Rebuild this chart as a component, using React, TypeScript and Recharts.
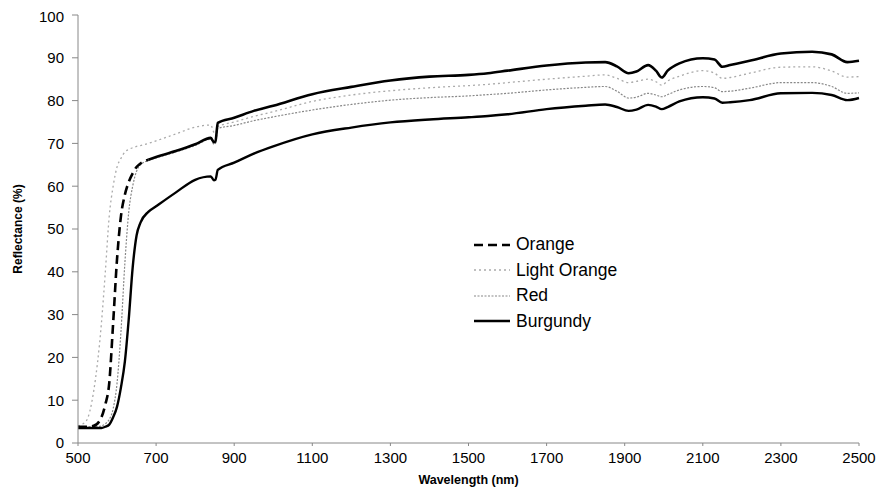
import React from "react";
import { Legend, Line, LineChart, XAxis, YAxis } from "recharts";

// reflectance spectra of four colours
const wavelengths = [
  500, 520, 540, 560, 570, 580, 590, 600, 610, 620, 630, 640, 650, 660, 680,
  700, 750, 800, 840, 848, 852, 858, 900, 950, 1000, 1100, 1200, 1300, 1400,
  1500, 1550, 1600, 1700, 1800, 1850, 1880, 1910, 1930, 1960, 1980, 1995, 2010,
  2040, 2100, 2130, 2150, 2170, 2220, 2300, 2380, 2430, 2470, 2500,
];

const orange = [
  3.8, 3.8, 4, 6, 9, 14, 28, 43, 53, 58, 61, 63, 64.5, 65.3, 66.2, 66.8, 68.2,
  69.8, 71.3, 70.3, 70.5, 74.8, 76, 77.6, 78.8, 81.5, 83.2, 84.7, 85.6, 86,
  86.4, 87, 88.2, 88.9, 89, 88, 86.4, 86.8, 88.3, 87, 85.4, 87, 88.7, 89.9,
  89.6, 87.9, 88.3, 89.3, 91, 91.4, 90.8, 89, 89.3,
];

const lightOrange = [
  4, 5, 12, 28, 40, 53, 60, 64.5, 66.5, 68, 68.6, 69, 69.3, 69.5, 70, 70.6,
  72.2, 73.8, 74.3, 72.6, 72.4, 73.9, 75, 76.3, 77.4, 79.8, 81.3, 82.3, 83,
  83.5, 83.8, 84.2, 85, 85.7, 86, 85.2, 84.2, 84.5, 85, 84.4, 83.6, 84.6, 85.7,
  87, 86.4, 85.2, 85.4, 86.4, 87.8, 87.9, 86.9, 85.5, 85.6,
];

const red = [
  3.8, 3.8, 3.8, 4, 4.5, 5.5, 8, 14, 26, 42, 54, 60, 63.5, 65, 66, 66.6,
  68, 69.5, 71, 69.8, 70, 73.5, 74.2, 75.3, 76.2, 77.8, 79.1, 80.1, 80.7, 81.1,
  81.4, 81.7, 82.5, 83.1, 83.3, 82.2, 80.6, 80.8, 81.7, 81.3, 80.9, 81.4, 82.5,
  83.3, 83, 82.1, 82.2, 82.9, 84.2, 84.2, 83.3, 81.7, 81.8,
];

const burgundy = [
  3.5, 3.5, 3.5, 3.5, 3.8, 4.3, 6, 8.5, 13, 19, 29, 41, 48.5, 51.5, 54, 55.3,
  58.5, 61.5, 62.3, 61.4, 61.5, 63.8, 65.5, 67.6, 69.3, 72.1, 73.7, 74.9, 75.6,
  76.1, 76.4, 76.8, 78, 78.8, 79.1, 78.5, 77.6, 77.9, 79, 78.6, 78, 78.5, 79.8,
  80.8, 80.5, 79.5, 79.6, 80.1, 81.7, 81.8, 81.3, 80.1, 80.6,
];

const xTicks = [500, 700, 900, 1100, 1300, 1500, 1700, 1900, 2100, 2300, 2500];
const yTicks = [0, 10, 20, 30, 40, 50, 60, 70, 80, 90, 100];

// the orange curve reads as dashed only on the steep rise
const data = wavelengths.map((w, i) => ({
  w,
  orangeRise: w <= 680 ? orange[i] : null,
  orangeRest: w >= 680 ? orange[i] : null,
  lightOrange: lightOrange[i],
  red: red[i],
  burgundy: burgundy[i],
}));

const legendItems = [
  { name: "Orange", color: "#000", width: 2.6, dash: "9 5" },
  { name: "Light Orange", color: "#aaa", width: 1.3, dash: "2 3" },
  { name: "Red", color: "#888", width: 1.2, dash: "2 1.5" },
  { name: "Burgundy", color: "#000", width: 2.4, dash: undefined },
];

function SpectraLegend() {
  return (
    <div>
      {legendItems.map((item) => (
        <div
          key={item.name}
          style={{ display: "flex", alignItems: "center", height: 25.5 }}
        >
          <svg width={44} height={10}>
            <line
              x1={6}
              y1={5}
              x2={42}
              y2={5}
              stroke={item.color}
              strokeWidth={item.width}
              strokeDasharray={item.dash}
            />
          </svg>
          <span style={{ fontSize: 17.5, color: "#000", marginLeft: 4 }}>
            {item.name}
          </span>
        </div>
      ))}
    </div>
  );
}

export default function App() {
  return (
    <div
      style={{
        fontFamily: "'Liberation Sans', Arial, sans-serif",
        width: 870,
        height: 484,
        padding: "8px 0 0 8px",
      }}
    >
      <style>{"body { margin: 0; }"}</style>
      <LineChart
        width={870}
        height={484}
        data={data}
        margin={{ top: 7, right: 19, left: 0, bottom: 0 }}
      >
        <XAxis
          dataKey="w"
          type="number"
          domain={[500, 2500]}
          ticks={xTicks}
          height={49}
          stroke="#888"
          tickSize={3}
          tickMargin={6}
          tick={{ fill: "#000", fontSize: 15 }}
          label={{
            value: "Wavelength (nm)",
            position: "insideBottom",
            offset: 8,
            style: { fontSize: 12.5, fontWeight: "bold", fill: "#000" },
          }}
        />
        <YAxis
          domain={[0, 100]}
          ticks={yTicks}
          width={70}
          stroke="#888"
          tickSize={6}
          tickMargin={8}
          tick={{ fill: "#000", fontSize: 15 }}
          label={{
            value: "Reflectance (%)",
            angle: -90,
            position: "insideLeft",
            offset: 10,
            style: {
              fontSize: 12,
              fontWeight: "bold",
              fill: "#000",
              textAnchor: "middle",
            },
          }}
        />
        <Legend
          layout="vertical"
          align="center"
          verticalAlign="middle"
          content={<SpectraLegend />}
          wrapperStyle={{ left: 460, top: 224, width: 200 }}
        />
        <Line
          dataKey="lightOrange"
          type="monotone"
          stroke="#aaa"
          strokeWidth={1.3}
          strokeDasharray="2 3"
          dot={false}
          isAnimationActive={false}
        />
        <Line
          dataKey="red"
          type="monotone"
          stroke="#888"
          strokeWidth={1.2}
          strokeDasharray="2 1.5"
          dot={false}
          isAnimationActive={false}
        />
        <Line
          dataKey="burgundy"
          type="monotone"
          stroke="#000"
          strokeWidth={2.4}
          dot={false}
          isAnimationActive={false}
        />
        <Line
          dataKey="orangeRise"
          type="monotone"
          stroke="#000"
          strokeWidth={2.6}
          strokeDasharray="9 5"
          dot={false}
          connectNulls={false}
          isAnimationActive={false}
        />
        <Line
          dataKey="orangeRest"
          type="monotone"
          stroke="#000"
          strokeWidth={2.6}
          dot={false}
          connectNulls={false}
          isAnimationActive={false}
        />
      </LineChart>
    </div>
  );
}
